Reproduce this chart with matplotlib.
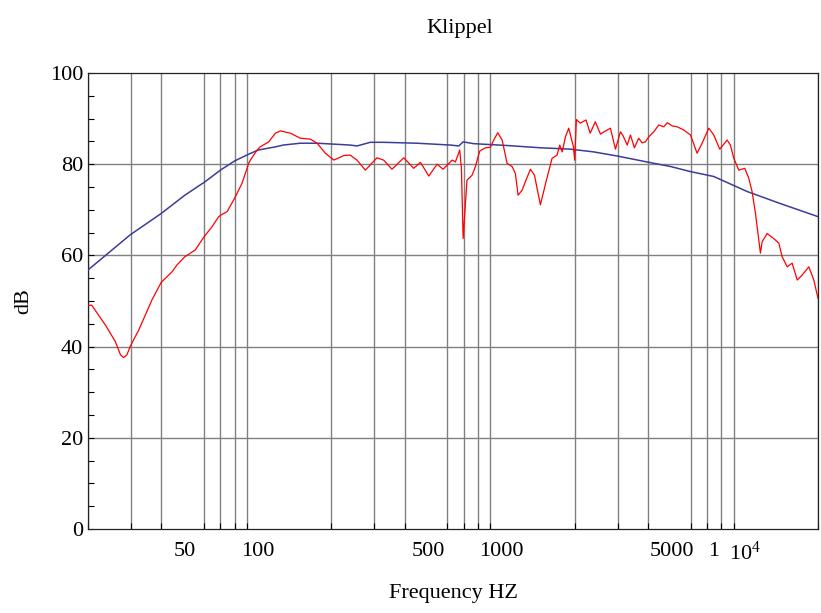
import matplotlib
matplotlib.use('Agg')
import matplotlib.pyplot as plt
from matplotlib.ticker import FixedLocator, NullFormatter

measured_freq = [20, 20.7, 23.6, 25.9, 27.2, 28.0, 28.9, 29.8, 32.3, 34.4, 36.6, 40, 42.9,
                 44.3, 46.4, 50, 55.2, 60, 64.7, 68.9, 71.1, 74.6, 80, 85.9, 91.5, 93, 99,
                 102, 110.6, 117.8, 123.5, 135.8, 149, 164, 174.8, 189,
                 204.8, 225, 239, 255, 276, 308, 328, 355, 397, 436, 465, 503, 544, 576,
                 627, 647, 674, 685, 696, 722, 758, 782, 815, 860, 901, 930, 966, 1007,
                 1055, 1106, 1141, 1171, 1216, 1255, 1316, 1367, 1446, 1531, 1615, 1693,
                 1737, 1777, 1833, 1891, 1977, 2000, 2033, 2108, 2228, 2316, 2432, 2552,
                 2640, 2805, 2942, 3085, 3164, 3289, 3390, 3521, 3666, 3784, 3906, 4030,
                 4226, 4433, 4650, 4800, 5030, 5275, 5615, 5985, 6371, 6680, 7114, 7460,
                 7890, 8467, 8730, 9016, 9452, 10000, 10390, 10720, 11070, 11420, 11600,
                 11790, 12360, 13150, 13800, 14250, 14940, 15660, 16430, 17220, 18340,
                 19220, 20000]
measured_db = [49.0, 49.1, 44.7, 41.1, 38.2, 37.6, 38.2, 40.0, 43.6, 46.9, 50.2, 54.1, 55.7,
               56.4, 57.9, 59.7, 61.2, 64.1, 66.3, 68.5, 69.0, 69.6, 72.5, 75.8, 80.2, 80.9,
               83.1, 83.8, 84.9, 86.8, 87.3, 86.8, 85.7, 85.5,
               84.6, 82.4, 80.9, 81.9, 82.0, 80.9, 78.7, 81.4, 80.9, 78.9, 81.4, 79.1, 80.4,
               77.4, 80.0, 78.9, 80.9, 80.5, 83.1, 79.0, 63.7, 76.5, 77.6, 79.5, 82.9, 83.6,
               83.7, 85.3, 86.9, 85.3, 80.2, 79.5, 78.0, 73.2, 74.3, 76.2, 78.9, 77.6, 71.1,
               76.5, 81.3, 82.0, 84.2, 82.7, 86.0, 87.9, 83.8, 80.9, 89.8, 89.0, 89.7, 86.8,
               89.3, 86.6, 87.1, 87.9, 83.3, 87.1, 86.2, 84.2, 86.4, 83.6, 85.7, 84.7, 84.9,
               86.0, 87.1, 88.6, 88.2, 89.1, 88.4, 88.2, 87.5, 86.4, 82.4, 84.6, 87.9, 86.4,
               83.3, 85.3, 84.2, 81.3, 78.7, 79.1, 76.9, 74.0, 69.2, 63.4, 60.5, 63.0, 64.8,
               63.7, 62.7, 59.7, 57.5, 58.3, 54.6, 55.7, 57.5, 54.6, 50.6]

# Model response (blue)
model_freq = [20, 29.8, 40, 50, 60.7, 70, 80, 91.5, 100, 117.8, 127, 149, 175, 239, 255,
              289, 328, 450, 617, 668, 696, 770, 1055, 1446, 1920, 2393, 2990, 3960, 4950,
              5960, 7460, 10240, 13950, 20000]
model_db = [56.8, 64.5, 69.2, 73.2, 76.2, 78.7, 80.7, 82.2, 83.1, 83.8, 84.2, 84.6, 84.6,
            84.2, 84.0, 84.8, 84.8, 84.6, 84.2, 84.0, 84.9, 84.5, 84.1, 83.6, 83.3, 82.7,
            81.8, 80.5, 79.5, 78.4, 77.3, 74.0, 71.4, 68.5]

# Axis labelling
grid_freq = [f * d for d in (10, 100, 1000) for f in range(1, 10) if 20 <= f * d <= 20000] + [20000]
grid_db = [20, 40, 60, 80]
tick_freq = [50, 100, 500, 1000, 5000, 7460, 10000]
tick_labels = ['50', '100', '500', '1000', '5000', '1', r'$\mathregular{10^4}$']
db_ticks = [0, 20, 40, 60, 80, 100]

plt.rcParams['font.family'] = ['Liberation Serif', 'DejaVu Serif']
plt.rcParams['mathtext.fontset'] = 'custom'
plt.rcParams['mathtext.rm'] = 'Liberation Serif'

fig = plt.figure(figsize=(8.21, 6.13), dpi=100)
ax = fig.add_axes([88 / 821, 84 / 613, 730 / 821, 456 / 613])

ax.plot(model_freq, model_db, color='#3c3c9a', lw=1.1, zorder=3)
ax.plot(measured_freq, measured_db, color='#ff0000', lw=0.9, zorder=4)

ax.set_xscale('log')
ax.set_xlim(20, 20000)
ax.set_ylim(0, 100)

# gridlines via minor ticks, labels via major ticks
ax.xaxis.set_minor_locator(FixedLocator(grid_freq))
ax.xaxis.set_minor_formatter(NullFormatter())
ax.xaxis.set_major_locator(FixedLocator(tick_freq))
ax.set_xticklabels(tick_labels)
ax.grid(True, which='minor', axis='x', color='#808080', lw=1.0)
ax.tick_params(axis='x', which='major', length=0, labelsize=16, pad=9)
ax.tick_params(axis='x', which='minor', direction='in', length=4, width=0.8)

ax.set_yticks(db_ticks)
ax.yaxis.set_minor_locator(FixedLocator(list(range(0, 101, 5))))
ax.yaxis.set_minor_formatter(NullFormatter())
for y in grid_db:
    ax.axhline(y, color='#808080', lw=1.0, zorder=1)
ax.tick_params(axis='y', which='both', direction='in', length=4, width=0.8, labelsize=16)

for side in ['top', 'right', 'left', 'bottom']:
    ax.spines[side].set_linewidth(0.9)
    ax.spines[side].set_color('#222222')

ax.set_xlabel('Frequency HZ', fontsize=16, labelpad=14)
ax.set_ylabel('dB', fontsize=16, labelpad=12)
fig.text(460 / 821, 1 - 28 / 613, 'Klippel', ha='center', va='center', fontsize=16)

fig.savefig('out.png', dpi=100)
